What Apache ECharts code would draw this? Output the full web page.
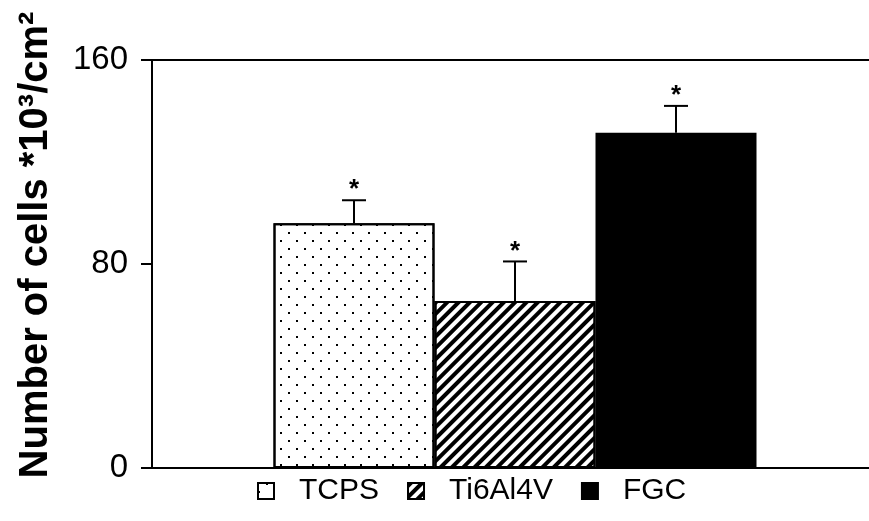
<!DOCTYPE html>
<html>
<head>
<meta charset="utf-8">
<script src="https://cdn.jsdelivr.net/npm/echarts@6/dist/echarts.min.js"></script>
<style>
  html, body { margin: 0; padding: 0; background: #fff; }
  #chart { width: 869px; height: 521px; }
</style>
</head>
<body>
<div id="chart"></div>
<script>
// Cell counts per substrate (x10^3 cells / cm^2)
const groups = ['TCPS', 'Ti6Al4V', 'FGC'];
const means = [96, 65.5, 131.5];
const upperErr = [105, 81, 142];
const marks = ['*', '*', '*'];
const yTicks = [0, 80, 160];

const FONT = "'Liberation Sans', Arial, sans-serif";
const BAR_WIDTH = 161;

const barStyles = [
  {
    color: '#fff', borderColor: '#000', borderWidth: 2,
    decal: {
      symbol: 'rect', symbolSize: 1, color: '#000',
      dashArrayX: [[2, 14], [0, 8, 2, 6]],
      dashArrayY: [2, 6]
    }
  },
  {
    color: '#fff', borderColor: '#000', borderWidth: 2,
    decal: {
      symbol: 'rect', symbolSize: 1, color: '#000',
      dashArrayX: [1, 0],
      dashArrayY: [4, 4],
      rotation: -Math.PI / 4
    }
  },
  { color: '#000', borderColor: '#000', borderWidth: 2 }
];

const chart = echarts.init(document.getElementById('chart'));

const barSeries = groups.map((name, i) => ({
  name: name,
  type: 'bar',
  data: [means[i]],
  barWidth: BAR_WIDTH,
  barGap: '0%',
  itemStyle: barStyles[i],
  emphasis: { disabled: true },
  z: 2
}));

const errorSeries = {
  type: 'custom',
  data: groups.map((g, i) => [0, i, means[i], upperErr[i]]),
  clip: false,
  z: 5,
  renderItem: function (params, api) {
    const idx = api.value(1);
    const base = api.coord([0, api.value(2)]);
    const top = api.coord([0, api.value(3)]);
    const x = base[0] + (idx - 1) * BAR_WIDTH;
    const lineStyle = { stroke: '#000', lineWidth: 2 };
    return {
      type: 'group',
      children: [
        { type: 'line', shape: { x1: x, y1: base[1], x2: x, y2: top[1] }, style: lineStyle },
        { type: 'line', shape: { x1: x - 12, y1: top[1], x2: x + 12, y2: top[1] }, style: lineStyle },
        {
          type: 'text',
          x: x, y: top[1] + 3,
          style: {
            text: marks[idx], fill: '#000', font: 'bold 26px ' + FONT,
            align: 'center', verticalAlign: 'bottom'
          }
        }
      ]
    };
  }
};

chart.setOption({
  animation: false,
  backgroundColor: '#fff',
  grid: { left: 152, right: -9, top: 60, bottom: 53, containLabel: false, outerBoundsMode: 'none' },
  legend: {
    left: 257, top: 476, padding: 0,
    itemWidth: 16, itemHeight: 16, itemGap: 28,
    icon: 'rect',
    data: groups,
    textStyle: { fontFamily: FONT, fontSize: 30, color: '#000', padding: [0, 0, 0, 20] }
  },
  xAxis: [
    {
      type: 'category', data: [''], position: 'bottom',
      axisLine: { lineStyle: { color: '#000', width: 2 } },
      axisTick: { show: false }, axisLabel: { show: false }
    },
    {
      type: 'category', data: [''], position: 'top',
      axisLine: { lineStyle: { color: '#000', width: 2 } },
      axisTick: { show: false }, axisLabel: { show: false }
    }
  ],
  yAxis: {
    type: 'value',
    min: yTicks[0], max: yTicks[yTicks.length - 1], interval: yTicks[1] - yTicks[0],
    name: 'Number of cells *10³/cm²',
    nameLocation: 'middle',
    nameGap: 96,
    nameRotate: 90,
    nameTextStyle: {
      fontFamily: FONT,
      fontWeight: 'bold', fontSize: 40, color: '#000',
      padding: [0, 0, 0, 38]
    },
    axisLine: { show: true, lineStyle: { color: '#000', width: 2 } },
    axisTick: { show: true, length: 11, lineStyle: { color: '#000', width: 2 } },
    axisLabel: { fontFamily: FONT, fontSize: 33, color: '#000', margin: 24 },
    splitLine: { show: false }
  },
  series: barSeries.concat([errorSeries])
});
</script>
</body>
</html>
